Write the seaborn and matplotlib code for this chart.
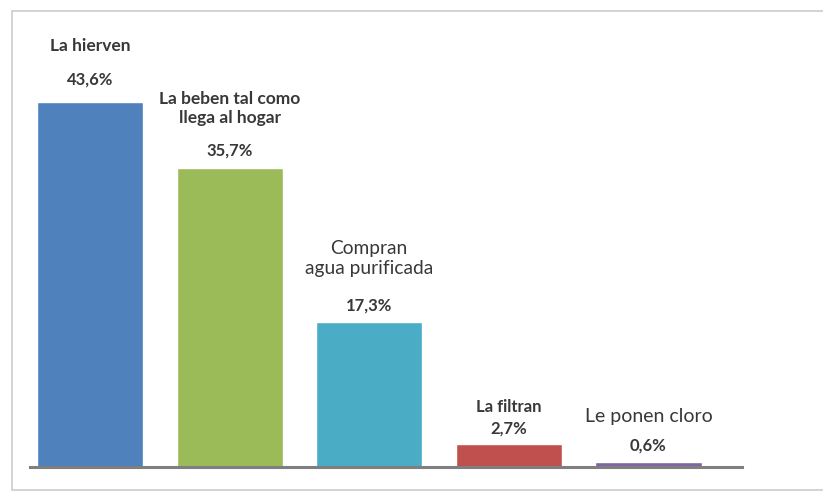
import matplotlib
matplotlib.use("Agg")
import matplotlib.pyplot as plt
import seaborn as sns
import pandas as pd
from matplotlib.lines import Line2D

# Household water treatment answers (% of households)
categories = ["La hierven", "La beben tal como\nllega al hogar", "Compran\nagua purificada",
              "La filtran", "Le ponen cloro"]
values = [43.6, 35.7, 17.3, 2.7, 0.6]
value_labels = ["43,6%", "35,7%", "17,3%", "2,7%", "0,6%"]
colors = ["#4F81BD", "#9BBB59", "#4BACC6", "#C0504D", "#8064A2"]

df = pd.DataFrame({"categoria": categories, "porcentaje": values})

sns.set_theme(style="white")
plt.rcParams["font.family"] = ["Lato", "DejaVu Sans"]

fig = plt.figure(figsize=(8.23, 4.92), dpi=100)
ax = fig.add_axes([30 / 823, 25 / 492, 712 / 823, 435 / 492])

sns.barplot(data=df, x="categoria", y="porcentaje", hue="categoria",
            palette=colors, legend=False, width=0.76, saturation=1, ax=ax)

ax.set_xlim(-0.43, 4.67)
ax.set_ylim(0, 52)
ax.set_xlabel("")
ax.set_ylabel("")
ax.set_xticks([])
ax.set_yticks([])
for side in ["top", "right", "left"]:
    ax.spines[side].set_visible(False)
ax.spines["bottom"].set_color("#7f7f7f")
ax.spines["bottom"].set_linewidth(2.2)

text_color = "#383838"

# label layout per bar: (name offset px, name size, name weight, pct offset px)
name_offset = [56, 60, 64, 37, 45]
name_size = [12.5, 12.5, 13.8, 12, 14]
name_weight = ["bold", "bold", "normal", "bold", "normal"]
pct_offset = [23, 18, 17, 16, 16]

for i, (v, lab, name) in enumerate(zip(values, value_labels, categories)):
    ax.annotate(lab, xy=(i, v), xytext=(0, pct_offset[i]), textcoords="offset pixels",
                ha="center", va="center", fontsize=12, fontweight="bold",
                color=text_color, annotation_clip=False)
    ax.annotate(name, xy=(i, v), xytext=(0, name_offset[i]), textcoords="offset pixels",
                ha="center", va="center", fontsize=name_size[i], fontweight=name_weight[i],
                color=text_color, linespacing=1.25, annotation_clip=False)

# light frame around the chart area (open on the right)
frame_kw = dict(color="#d3d3d3", linewidth=1.4, transform=fig.transFigure)
fig.add_artist(Line2D([12 / 823, 12 / 823], [1 - 11 / 492, 1 - 490 / 492], **frame_kw))
fig.add_artist(Line2D([12 / 823, 1.0], [1 - 11 / 492, 1 - 11 / 492], **frame_kw))
fig.add_artist(Line2D([12 / 823, 1.0], [1 - 490 / 492, 1 - 490 / 492], **frame_kw))

fig.savefig("out.png", dpi=100)
